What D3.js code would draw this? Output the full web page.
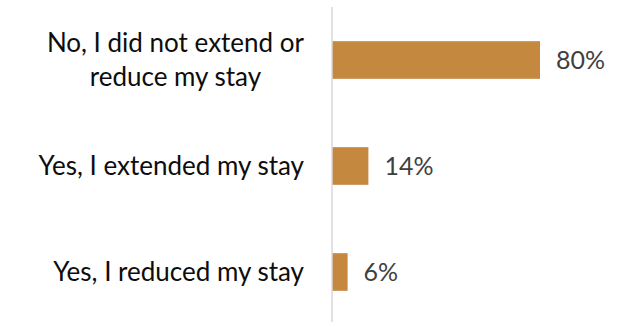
<!DOCTYPE html>
<html>
<head>
<meta charset="utf-8">
<script src="https://cdn.jsdelivr.net/npm/d3@7/dist/d3.min.js"></script>
<style>
  html, body { margin: 0; padding: 0; background: #fff; }
  svg { display: block; }
</style>
</head>
<body>
<svg id="chart" width="628" height="322"></svg>
<script>
// Survey answers, top to bottom, with the share of respondents (%)
const categories = [
  ["No, I did not extend or", "reduce my stay"],
  ["Yes, I extended my stay"],
  ["Yes, I reduced my stay"]
];
const values = [80, 14, 6];
const valueLabels = ["80%", "14%", "6%"];

const width = 628, height = 322;
const svg = d3.select("#chart");

const axisX = 332;
const x = d3.scaleLinear().domain([0, 100]).range([axisX, axisX + 260]);
const y = d3.scaleBand()
  .domain(d3.range(values.length))
  .range([7, 325])
  .paddingInner(0.645)
  .paddingOuter(0.3225);

const font = "Lato, 'Open Sans', sans-serif";

// bars
svg.append("g").selectAll("rect")
  .data(values)
  .join("rect")
  .attr("x", x(0))
  .attr("y", (d, i) => y(i))
  .attr("width", d => x(d) - x(0))
  .attr("height", y.bandwidth())
  .attr("fill", "#C5883F");

// vertical category axis line
svg.append("line")
  .attr("x1", axisX).attr("x2", axisX)
  .attr("y1", 7).attr("y2", 322)
  .attr("stroke", "#d9d9d9")
  .attr("stroke-width", 1.5);

// value labels
svg.append("g").selectAll("text")
  .data(values)
  .join("text")
  .attr("x", d => x(d) + 16)
  .attr("y", (d, i) => y(i) + y.bandwidth() / 2)
  .attr("dy", "0.36em")
  .attr("font-family", font)
  .attr("font-size", 25)
  .attr("fill", "#404040")
  .text((d, i) => valueLabels[i]);

// category labels: multi-line blocks, centred lines, right-aligned block
const lineH = 33.4;
const catG = svg.append("g");
categories.forEach((lines, i) => {
  const cy = y(i) + y.bandwidth() / 2;
  const t = catG.append("text")
    .attr("font-family", font)
    .attr("font-size", 26)
    .attr("fill", "#0d0d0d")
    .attr("text-anchor", "middle");
  lines.forEach((ln, j) => {
    t.append("tspan")
      .attr("y", cy + (j - (lines.length - 1) / 2) * lineH)
      .attr("dy", "0.34em")
      .text(ln);
  });
  // centre the block so its widest line ends near the axis
  const spans = t.selectAll("tspan").nodes();
  const w = d3.max(spans, s => s.getComputedTextLength());
  const right = 304;
  t.selectAll("tspan").attr("x", right - w / 2);
});
</script>
</body>
</html>
